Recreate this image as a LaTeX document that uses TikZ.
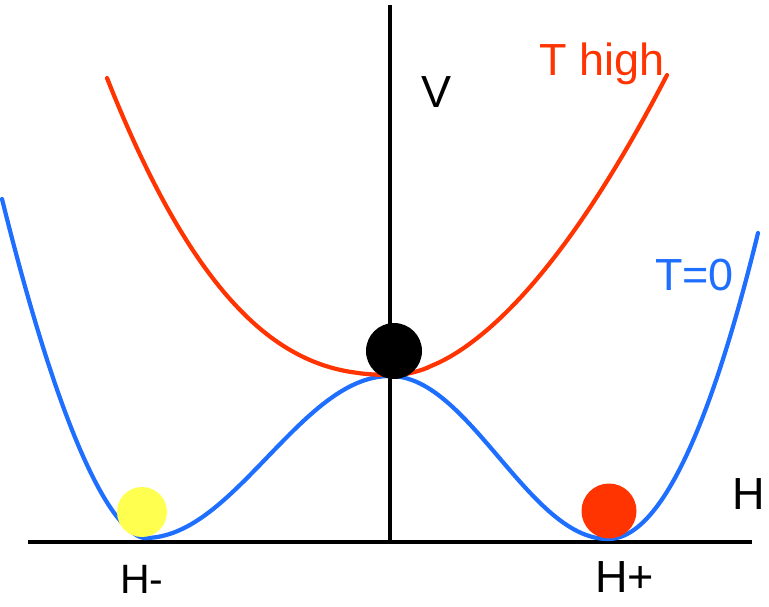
\documentclass[tikz,border=0pt]{standalone}
\usepackage{fontspec}
\setmainfont{Liberation Sans}
\definecolor{cblue}{RGB}{30,110,255}
\definecolor{cred}{RGB}{255,52,0}
\definecolor{cyellow}{RGB}{255,255,80}
\begin{document}
\begin{tikzpicture}[x=1pt,y=-1pt,
  axis/.style={line width=4.8pt,black},
  curve/.style={line width=4.2pt,line cap=round,line join=round},
  ball/.style={circle,inner sep=0pt,minimum size=#1},
  lbl/.style={anchor=base west,inner sep=0pt,font=\fontsize{45}{54}\selectfont}]
\useasboundingbox[fill=white] (0,0) rectangle (769,606);
% axes
\coordinate (ytop) at (390,5);
\coordinate (ybot) at (390,544);
\coordinate (xl) at (28,542);
\coordinate (xr) at (752,542);
\draw[axis] (ybot) -- (ytop);
\draw[axis] (xl) -- (xr);
% T=0 curve
\draw[curve,cblue]
  plot[domain=2:144.5,samples=60] (\x,{538-339*((145-\x)/143)^1.7})
  -- plot[domain=145:390,samples=60] (\x,{538-81*(1-cos((\x-145)/245*180))})
  -- plot[domain=390:608,samples=60] (\x,{376+81.5*(1-cos((\x-390)/218*180))})
  -- plot[domain=608:758,samples=60] (\x,{539-306*((\x-608)/150)^2});
% T high curve
\draw[curve,cred]
  plot[domain=107:394.5,samples=70] (\x,{375-297*((395-\x)/288)^2.45})
  -- plot[domain=395.5:667,samples=70] (\x,{375-300*((\x-395)/272)^1.75});
% balls
\node[ball=56pt,fill=black] (bblack) at (394,351) {};
\node[ball=50pt,fill=cyellow] (byellow) at (142,512) {};
\node[ball=55pt,fill=cred] (bred) at (609,511) {};
% labels
\node[lbl,text=cred] (thigh) at (539,75) {T high};
\node[lbl,text=cblue] (tzero) at (655,290) {T=0};
\node[lbl] (vlab) at (421,107) {V};
\node[lbl] (hlab) at (732,509) {H};
\node[lbl,font=\fontsize{41}{50}\selectfont] (hminus) at (120,593) {H-};
\node[lbl] (hplus) at (595,592) {H+};
\end{tikzpicture}
\end{document}
